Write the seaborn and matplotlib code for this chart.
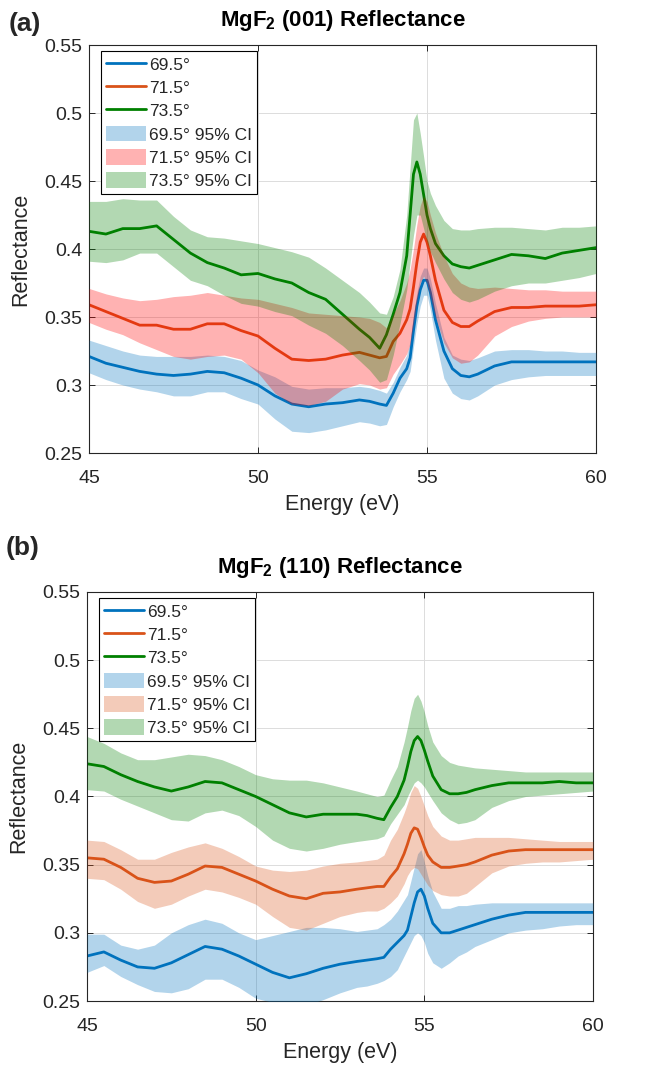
import numpy as np
import pandas as pd
import matplotlib
matplotlib.use("Agg")
import matplotlib.pyplot as plt
import seaborn as sns

# Photon energy grid (eV), shared by every series in both panels
energy = [45, 45.5, 46, 46.5, 47, 47.5, 48, 48.5, 49, 49.5,
          50, 50.5, 51, 51.5, 52, 52.5, 53, 53.3, 53.6, 53.8,
          54, 54.2, 54.4, 54.5, 54.6, 54.7, 54.8, 54.9, 55, 55.1,
          55.25, 55.5, 55.75, 56, 56.25, 56.5, 57, 57.5, 58, 58.5,
          59, 59.5, 60]

angles = ["69.5°", "71.5°", "73.5°"]

# ---- MgF2 (001) ----
a_695 = [.321, .316, .313, .310, .308, .307, .308, .310, .309, .305,
         .300, .292, .286, .284, .286, .287, .289, .288, .286, .285,
         .294, .305, .312, .320, .340, .358, .370, .377, .377, .368,
         .348, .325, .312, .307, .306, .308, .314, .317, .317, .317,
         .317, .317, .317]
a_695_hi = [.333, .329, .325, .322, .321, .321, .321, .322, .321, .318,
            .311, .306, .299, .297, .298, .298, .299, .298, .296, .294,
            .302, .313, .322, .332, .352, .368, .380, .386, .386, .378,
            .360, .335, .322, .319, .318, .320, .325, .326, .326, .325,
            .325, .324, .324]
a_695_lo = [.309, .304, .300, .297, .295, .292, .292, .295, .295, .290,
            .286, .275, .266, .265, .267, .270, .273, .272, .270, .271,
            .284, .295, .304, .310, .328, .345, .358, .366, .366, .355,
            .333, .305, .294, .290, .289, .292, .300, .304, .306, .307,
            .307, .307, .307]

a_715 = [.359, .354, .349, .344, .344, .341, .341, .345, .345, .340,
         .336, .327, .319, .318, .319, .322, .324, .322, .320, .321,
         .332, .338, .348, .356, .372, .390, .405, .411, .405, .395,
         .377, .355, .346, .343, .343, .347, .354, .357, .357, .358,
         .358, .358, .359]
a_715_hi = [.371, .367, .364, .362, .363, .365, .366, .368, .366, .364,
            .363, .360, .357, .353, .352, .351, .350, .349, .346, .342,
            .352, .362, .375, .385, .400, .418, .432, .439, .435, .425,
            .412, .395, .382, .375, .372, .371, .372, .371, .370, .370,
            .369, .369, .369]
a_715_lo = [.346, .341, .337, .331, .326, .321, .319, .321, .322, .319,
            .309, .294, .286, .285, .288, .297, .301, .300, .297, .298,
            .308, .315, .323, .330, .345, .362, .375, .380, .375, .365,
            .350, .331, .320, .316, .317, .322, .336, .343, .347, .349,
            .350, .350, .350]

a_735 = [.413, .411, .415, .415, .417, .407, .397, .390, .386, .381,
         .382, .378, .375, .368, .363, .352, .341, .335, .327, .337,
         .352, .368, .395, .425, .455, .464, .455, .440, .425, .415,
         .404, .395, .389, .387, .386, .388, .392, .396, .395, .393,
         .397, .399, .401]
a_735_hi = [.435, .435, .437, .436, .436, .424, .414, .409, .408, .406,
            .404, .401, .398, .394, .386, .377, .368, .361, .353, .352,
            .365, .385, .425, .460, .495, .500, .485, .468, .450, .441,
            .432, .421, .415, .414, .414, .415, .416, .416, .415, .414,
            .416, .416, .417]
a_735_lo = [.391, .390, .392, .397, .397, .387, .377, .373, .366, .360,
            .358, .354, .351, .344, .338, .329, .318, .311, .302, .304,
            .322, .345, .370, .390, .410, .425, .425, .415, .405, .398,
            .390, .378, .368, .363, .361, .363, .369, .373, .375, .375,
            .377, .379, .382]

# ---- MgF2 (110) ----
b_695 = [.283, .286, .280, .275, .274, .278, .284, .290, .288, .283,
         .277, .271, .267, .270, .274, .277, .279, .280, .281, .282,
         .288, .293, .298, .302, .312, .322, .330, .332, .327, .318,
         .307, .300, .300, .302, .304, .306, .310, .313, .315, .315,
         .315, .315, .315]
b_695_hi = [.299, .299, .291, .288, .291, .300, .306, .310, .307, .300,
            .295, .298, .301, .304, .304, .303, .301, .302, .303, .306,
            .310, .316, .324, .328, .338, .348, .358, .361, .352, .342,
            .330, .318, .318, .320, .320, .321, .322, .322, .322, .322,
            .322, .322, .322]
b_695_lo = [.271, .276, .268, .262, .257, .256, .259, .266, .266, .260,
            .252, .249, .245, .247, .251, .256, .260, .261, .263, .265,
            .268, .273, .283, .288, .293, .298, .300, .298, .293, .285,
            .278, .274, .278, .283, .286, .290, .295, .300, .302, .303,
            .305, .306, .306]

b_715 = [.355, .354, .348, .340, .337, .338, .343, .349, .348, .343,
         .338, .332, .327, .325, .329, .330, .332, .333, .334, .334,
         .341, .347, .358, .365, .373, .377, .376, .370, .363, .357,
         .352, .348, .348, .349, .350, .352, .357, .360, .361, .361,
         .361, .361, .361]
b_715_hi = [.368, .367, .361, .354, .354, .359, .363, .366, .362, .356,
            .349, .346, .345, .346, .349, .351, .352, .353, .354, .357,
            .368, .376, .388, .395, .403, .408, .406, .400, .393, .386,
            .378, .371, .368, .368, .369, .370, .370, .370, .369, .368,
            .367, .367, .367]
b_715_lo = [.340, .339, .332, .323, .318, .321, .327, .332, .330, .326,
            .321, .312, .304, .302, .307, .312, .315, .316, .316, .318,
            .322, .327, .336, .342, .346, .348, .347, .343, .339, .335,
            .331, .328, .327, .327, .329, .334, .344, .349, .351, .352,
            .352, .353, .354]

b_735 = [.424, .422, .416, .411, .407, .404, .407, .411, .410, .405,
         .400, .394, .388, .385, .387, .387, .387, .386, .384, .383,
         .392, .400, .412, .422, .433, .441, .444, .441, .434, .426,
         .415, .405, .402, .402, .403, .405, .408, .410, .410, .410,
         .411, .410, .410]
b_735_hi = [.444, .439, .432, .427, .427, .429, .431, .430, .427, .422,
            .416, .413, .412, .412, .410, .407, .404, .402, .400, .401,
            .412, .422, .440, .451, .463, .472, .475, .470, .462, .452,
            .440, .430, .425, .423, .422, .421, .420, .419, .418, .418,
            .418, .418, .418]
b_735_lo = [.405, .404, .398, .393, .388, .383, .382, .388, .390, .386,
            .378, .368, .362, .360, .362, .365, .367, .368, .369, .371,
            .380, .387, .394, .400, .405, .410, .412, .410, .407, .403,
            .397, .388, .383, .380, .381, .383, .392, .397, .400, .401,
            .402, .403, .404]

line_colors = ["#0072BD", "#D95319", "#008000"]
band_colors_a = ["#0072BD", "#FF0000", "#008000"]
band_colors_b = ["#0072BD", "#D95319", "#008000"]

sns.set_style("ticks")
plt.rcParams["font.family"] = ["Liberation Sans", "DejaVu Sans"]
plt.rcParams["mathtext.fontset"] = "custom"
plt.rcParams["mathtext.rm"] = "Liberation Sans"
plt.rcParams["mathtext.bf"] = "Liberation Sans:bold"

W, H = 646, 1067
fig = plt.figure(figsize=(W / 100, H / 100), dpi=100)


def px_axes(left, top, right, bottom):
    return fig.add_axes([left / W, 1 - bottom / H, (right - left) / W, (bottom - top) / H])


ax_a = px_axes(89, 45, 596, 453)
ax_b = px_axes(87, 592, 593, 1001)

panels = [
    (ax_a, "MgF$_\\mathbf{2}$ (001) Reflectance", band_colors_a,
     [(a_695, a_695_lo, a_695_hi), (a_715, a_715_lo, a_715_hi), (a_735, a_735_lo, a_735_hi)]),
    (ax_b, "MgF$_\\mathbf{2}$ (110) Reflectance", band_colors_b,
     [(b_695, b_695_lo, b_695_hi), (b_715, b_715_lo, b_715_hi), (b_735, b_735_lo, b_735_hi)]),
]

ink = "#262626"
for ax, title, band_colors, series in panels:
    df = pd.DataFrame({"energy": energy})
    for ang, (m, lo, hi) in zip(angles, series):
        df[ang] = m
        df[ang + " lo"] = lo
        df[ang + " hi"] = hi
    # mean curves
    for ang, col in zip(angles, line_colors):
        sns.lineplot(data=df, x="energy", y=ang, ax=ax, color=col, lw=2.0,
                     label=ang, zorder=2, estimator=None)
    # 95% confidence bands, layered over the curves
    for ang, col in zip(angles, band_colors):
        ax.fill_between(df["energy"], df[ang + " lo"], df[ang + " hi"],
                        color=col, alpha=0.3, lw=0, zorder=3,
                        label=ang + " 95% CI")

    ax.set_xlim(45, 60)
    ax.set_ylim(0.25, 0.55)
    ax.set_xticks([45, 50, 55, 60])
    ax.set_yticks([0.25, 0.3, 0.35, 0.4, 0.45, 0.5, 0.55])
    ax.set_yticklabels(["0.25", "0.3", "0.35", "0.4", "0.45", "0.5", "0.55"])
    ax.grid(True, color="#dcdcdc", lw=0.7, zorder=0)
    ax.set_axisbelow(True)
    ax.tick_params(direction="in", length=4, width=0.7, top=True, right=True,
                   labelsize=14, colors=ink)
    ax.tick_params(axis="x", pad=12)
    ax.tick_params(axis="y", pad=5)
    for sp in ax.spines.values():
        sp.set_color(ink)
        sp.set_linewidth(0.8)
    ax.set_xlabel("Energy (eV)", fontsize=15.5, color=ink, labelpad=5)
    ax.set_ylabel("Reflectance", fontsize=15.5, color=ink, labelpad=9)
    ax.set_title(title, fontsize=16, fontweight="bold", color="black", pad=14)

    leg = ax.legend(loc="upper left", bbox_to_anchor=(0.024, 0.986), borderaxespad=0,
                    fontsize=12.5, frameon=True, fancybox=False, framealpha=1,
                    edgecolor="black", handlelength=2.3, handleheight=1.0,
                    handletextpad=0.15, labelspacing=0.38, borderpad=0.3)
    leg.get_frame().set_linewidth(0.8)
    leg.set_zorder(10)

fig.text(25 / W, 1 - 24 / H, "(a)", fontsize=19, fontweight="bold", ha="center", va="center")
fig.text(23 / W, 1 - 548 / H, "(b)", fontsize=19, fontweight="bold", ha="center", va="center")

fig.savefig("out.png", dpi=100)
